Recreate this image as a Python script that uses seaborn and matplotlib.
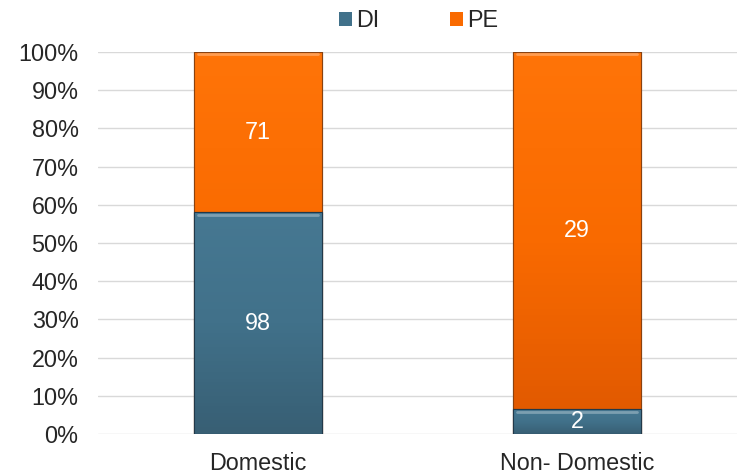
import numpy as np
import pandas as pd
import matplotlib
matplotlib.use("Agg")
import matplotlib.pyplot as plt
import seaborn as sns

categories = ["Domestic", "Non- Domestic"]
series_names = ["DI", "PE"]
di_counts = [98, 2]
pe_counts = [71, 29]
y_ticks = [0, 10, 20, 30, 40, 50, 60, 70, 80, 90, 100]

colors = {"DI": "#41718A", "PE": "#F96A00"}
tops = {"DI": "#467892", "PE": "#FF7408"}
bottoms = {"DI": "#385F74", "PE": "#DF5800"}

sns.set_theme(style="white")
plt.rcParams["font.family"] = ["Liberation Sans", "DejaVu Sans"]

df = pd.DataFrame({"category": categories, "DI": di_counts, "PE": pe_counts})
totals = df["DI"] + df["PE"]
df["DI_pct"] = df["DI"] / totals * 100
df["PE_pct"] = df["PE"] / totals * 100
df["top_pct"] = df["DI_pct"] + df["PE_pct"]

fig = plt.figure(figsize=(7.37, 4.76), dpi=100)
ax = fig.add_axes([98 / 737, 42 / 476, 639 / 737, 382 / 476])

# Full-height PE bar drawn first, DI bar on top of it from zero
sns.barplot(data=df, x="category", y="top_pct", color=colors["PE"], width=0.4,
            ax=ax, saturation=1, edgecolor="#8A4210", linewidth=0.8, zorder=3)
sns.barplot(data=df, x="category", y="DI_pct", color=colors["DI"], width=0.4,
            ax=ax, saturation=1, edgecolor="#22394A", linewidth=0.8, zorder=4)

# Vertical shading inside each bar
n = len(categories)
pe_bars = ax.patches[:n]
di_bars = ax.patches[n:2 * n]
for bars, key in ((pe_bars, "PE"), (di_bars, "DI")):
    cmap = matplotlib.colors.LinearSegmentedColormap.from_list(
        key, [bottoms[key], colors[key], tops[key]])
    for bar in bars:
        x0, y0 = bar.get_x(), bar.get_y()
        w, h = bar.get_width(), bar.get_height()
        grad = np.linspace(0, 1, 64).reshape(-1, 1)
        im = ax.imshow(grad, cmap=cmap, origin="lower", aspect="auto",
                       extent=(x0, x0 + w, y0, y0 + h), zorder=bar.get_zorder() + 0.1)
        im.set_clip_path(bar)
        # light bevel line along the top edge
        ax.plot([x0 + w * 0.03, x0 + w * 0.97], [y0 + h - 0.6, y0 + h - 0.6],
                color="white", alpha=0.3, lw=2, zorder=bar.get_zorder() + 0.2)
        ax.plot([x0, x0 + w, x0 + w, x0, x0], [y0, y0, y0 + h, y0 + h, y0],
                color=bar.get_edgecolor(), lw=0.8, zorder=bar.get_zorder() + 0.3)

ax.set_xlim(-0.5, 1.5)
ax.set_ylim(0, 100)
ax.set_yticks(y_ticks)
ax.set_yticklabels([f"{t}%" for t in y_ticks], fontsize=16.8, color="#262626")
ax.tick_params(axis="x", labelsize=16.8, colors="#262626", pad=13, length=0)
ax.tick_params(axis="y", length=0, pad=14)
ax.set_xlabel("")
ax.set_ylabel("")
ax.yaxis.grid(True, color="#D9D9D9", linewidth=1)
ax.set_axisbelow(True)
for s in ax.spines.values():
    s.set_visible(False)

# Count labels centred in each segment
for i in range(n):
    di_mid = df["DI_pct"][i] / 2
    pe_mid = df["DI_pct"][i] + df["PE_pct"][i] / 2
    ax.text(i, di_mid, str(di_counts[i]), ha="center", va="center",
            color="white", fontsize=16.8, zorder=10)
    ax.text(i, pe_mid, str(pe_counts[i]), ha="center", va="center",
            color="white", fontsize=16.8, zorder=10)

handles = [matplotlib.patches.Patch(facecolor=colors[k], edgecolor="none") for k in series_names]
fig.legend(handles, series_names, loc="upper center", bbox_to_anchor=(0.568, 1.025),
           ncol=2, frameon=False, fontsize=16.8, handlelength=0.55, handleheight=0.55,
           handletextpad=0.2, columnspacing=3.0)

fig.savefig("out.png", dpi=100)
